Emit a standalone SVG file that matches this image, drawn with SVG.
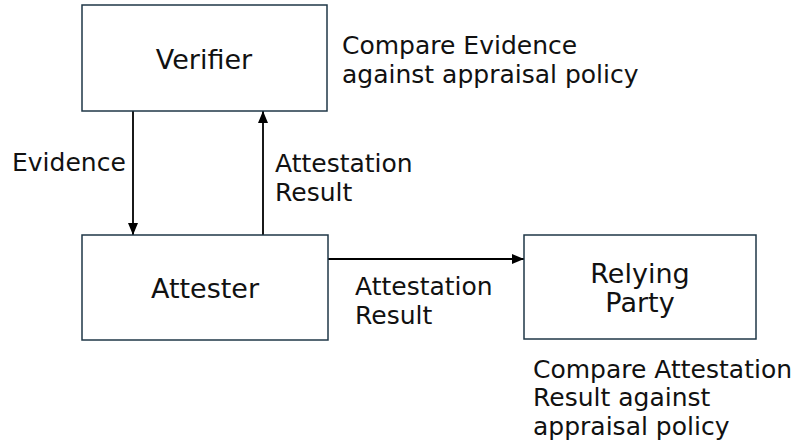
<svg xmlns="http://www.w3.org/2000/svg" width="794" height="448" viewBox="0 0 794 448">
  <style>
    .box { fill: #ffffff; stroke: #1f3747; stroke-width: 1.5; }
    .node { font-family: "DejaVu Sans", Verdana, sans-serif; font-size: 27px; fill: #111111; text-anchor: middle; }
    .note { font-family: "DejaVu Sans", Verdana, sans-serif; font-size: 25px; fill: #111111; }
    .edge { stroke: #000000; stroke-width: 1.8; fill: none; marker-end: url(#arrow); }
  </style>
  <defs>
    <marker id="arrow" viewBox="0 0 12 10" refX="12" refY="5" markerWidth="12" markerHeight="10" markerUnits="userSpaceOnUse" orient="auto">
      <path d="M0,0 L12,5 L0,10 Z" fill="#000000"/>
    </marker>
  </defs>

  <rect width="794" height="448" fill="#ffffff"/>

  <g id="connectors">
    <line class="edge" x1="133" y1="111" x2="133" y2="235"/>
    <line class="edge" x1="263" y1="235" x2="263" y2="111"/>
    <line class="edge" x1="328" y1="259" x2="524" y2="259"/>
    <text class="note" x="12" y="171">Evidence</text>
    <text class="note" x="275" y="172">Attestation</text>
    <text class="note" x="275" y="201">Result</text>
    <text class="note" x="355" y="295">Attestation</text>
    <text class="note" x="355" y="324">Result</text>
  </g>

  <g id="verifier">
    <rect class="box" x="82" y="5" width="245" height="106"/>
    <text class="node" x="204" y="69">Verifier</text>
  </g>

  <g id="attester">
    <rect class="box" x="82" y="235" width="246" height="105"/>
    <text class="node" x="205" y="298">Attester</text>
  </g>

  <g id="relying-party">
    <rect class="box" x="524" y="235" width="232" height="104"/>
    <text class="node" x="640" y="283">Relying</text>
    <text class="node" x="640" y="312">Party</text>
  </g>

  <g id="verifier-note">
    <text class="note" x="342" y="54">Compare Evidence</text>
    <text class="note" x="342" y="83">against appraisal policy</text>
  </g>

  <g id="relying-party-note">
    <text class="note" x="533" y="378">Compare Attestation</text>
    <text class="note" x="533" y="406">Result against</text>
    <text class="note" x="533" y="435">appraisal policy</text>
  </g>
</svg>
